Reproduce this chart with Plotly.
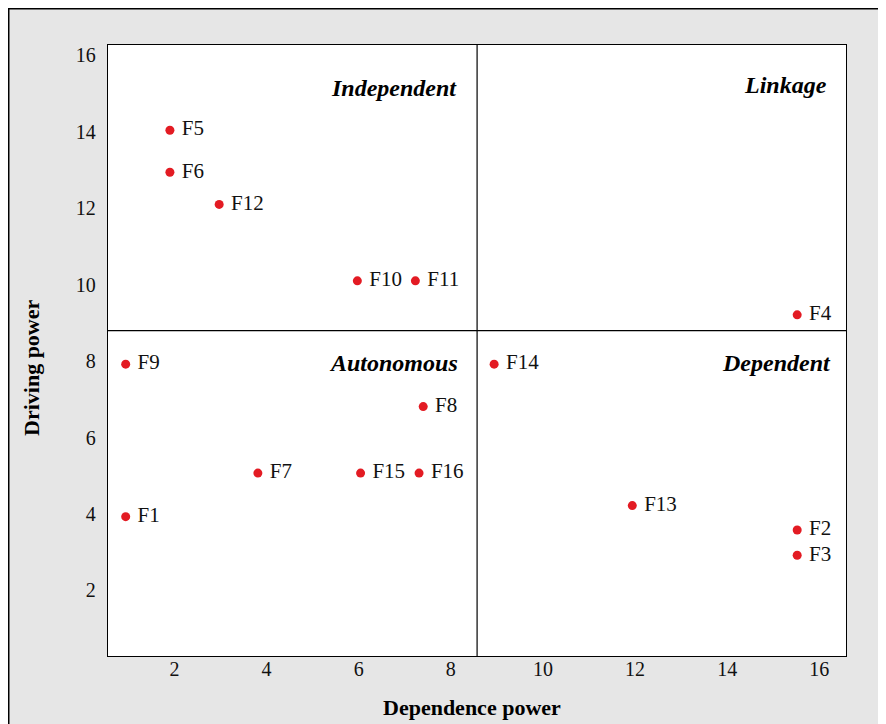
import plotly.graph_objects as go

# ---- data ----
factors = ["F1", "F2", "F3", "F4", "F5", "F6", "F7", "F8",
           "F9", "F10", "F11", "F12", "F13", "F14", "F15", "F16"]
dependence = [0.94, 15.52, 15.52, 15.52, 1.90, 1.90, 3.81, 7.40,
              0.94, 5.97, 7.23, 2.97, 11.94, 8.94, 6.04, 7.31]
driving = [3.93, 3.58, 2.92, 9.21, 14.04, 12.94, 5.07, 6.81,
           7.92, 10.10, 10.10, 12.10, 4.22, 7.92, 5.07, 5.07]
tick_vals = [2, 4, 6, 8, 10, 12, 14, 16]
quadrants = ["Independent", "Linkage", "Autonomous", "Dependent"]
divider_x = 8.57
divider_y = 8.80

FONT = "Liberation Serif"

fig = go.Figure()
fig.add_trace(go.Scatter(
    x=dependence, y=driving, mode="markers+text",
    text=factors, texttemplate=" %{text}", textposition="middle right",
    marker=dict(size=9, color="#e31b23"),
    textfont=dict(family=FONT, size=21, color="#111111"),
    cliponaxis=False, hoverinfo="skip", showlegend=False,
))

# outer grey frame
fig.add_shape(type="rect", xref="paper", yref="paper",
              x0=-0.1345, x1=1.2, y0=-0.3, y1=1.0595,
              fillcolor="#e6e6e6", line=dict(color="black", width=1.5),
              layer="below")
# white plot area
fig.add_shape(type="rect", xref="paper", yref="paper",
              x0=0, x1=1, y0=0, y1=1,
              fillcolor="white", line=dict(width=0),
              layer="below")
# quadrant dividers
fig.add_shape(type="line", xref="x", yref="paper", x0=divider_x, x1=divider_x,
              y0=0, y1=1, line=dict(color="black", width=1.2))
fig.add_shape(type="line", xref="paper", yref="y", x0=0, x1=1,
              y0=divider_y, y1=divider_y, line=dict(color="black", width=1.2))

qpos = [(8.18, 15.15), (16.2, 15.22), (8.2, 7.95), (16.3, 7.95)]
for name, (qx, qy) in zip(quadrants, qpos):
    fig.add_annotation(x=qx, y=qy, xref="x", yref="y", text=f"<b><i>{name}</i></b>",
                       showarrow=False, xanchor="right", yanchor="middle",
                       font=dict(family=FONT, size=24, color="black"))

fig.add_annotation(x=0.493, y=-0.085, xref="paper", yref="paper",
                   text="<b>Dependence power</b>", showarrow=False,
                   xanchor="center", yanchor="middle",
                   font=dict(family=FONT, size=22, color="black"))
fig.add_annotation(x=-0.103, y=0.473, xref="paper", yref="paper",
                   text="<b>Driving power</b>", showarrow=False, textangle=-90,
                   xanchor="center", yanchor="middle",
                   font=dict(family=FONT, size=22, color="black"))

fig.update_layout(
    width=878, height=716,
    margin=dict(l=100, r=40, t=37, b=68),
    paper_bgcolor="white", plot_bgcolor="rgba(0,0,0,0)",
    font=dict(family=FONT, size=20, color="#111111"),
)
fig.update_xaxes(range=[0.556, 16.58], tickvals=tick_vals, showgrid=False,
                 zeroline=False, showline=True, mirror=True, linecolor="black",
                 linewidth=1.3, ticks="", ticklabelstandoff=-5,
                 tickfont=dict(family=FONT, size=20, color="#111111"))
fig.update_yaxes(range=[0.285, 16.27], tickvals=tick_vals, showgrid=False,
                 zeroline=False, showline=True, mirror=True, linecolor="black",
                 linewidth=1.3, ticks="", ticklabelstandoff=7,
                 tickfont=dict(family=FONT, size=20, color="#111111"))

fig.write_html("out.html")
